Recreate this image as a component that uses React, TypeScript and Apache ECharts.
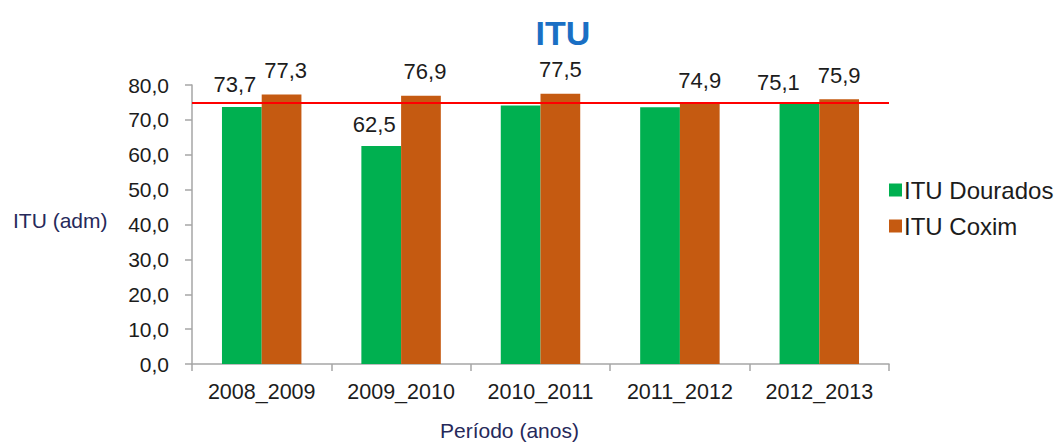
import React, { useEffect, useRef } from "react";
import * as echarts from "echarts";

const categories = ["2008_2009", "2009_2010", "2010_2011", "2011_2012", "2012_2013"];
const dourados = [73.7, 62.5, 74.1, 73.6, 75.1];
const coxim = [77.3, 76.9, 77.5, 74.9, 75.9];
const threshold = 75;
const yTicks = { min: 0, max: 80, interval: 10 };
const hiddenDouradosLabels = [2, 3];

const FONT = "'Liberation Sans', Arial, sans-serif";
const TEXT = "#1c1c1c";
const fmt = (v: number) => v.toFixed(1).replace(".", ",");

export default function App() {
  const ref = useRef<HTMLDivElement>(null);
  useEffect(() => {
    if (!ref.current) return;
    const chart = echarts.init(ref.current, null, { renderer: "svg" });
    const douradosOffsets: number[][] = [[-7, -6], [-7, -6], [0, -6], [0, -6], [-21, -4]];
    const coximOffsets: number[][] = [[4, -8], [4, -8], [0, -8], [0, -6], [0, -8]];
    chart.setOption({
      animation: false,
      backgroundColor: "#ffffff",
      title: {
        text: "ITU",
        left: 558,
        top: 11,
        textAlign: "center",
        textStyle: { color: "#1a6fc4", fontSize: 34, fontWeight: "bold", fontFamily: FONT },
      },
      legend: {
        orient: "vertical",
        left: 884,
        top: 173,
        itemWidth: 13,
        itemHeight: 13,
        itemGap: 12,
        icon: "rect",
        textStyle: { fontSize: 24, color: TEXT, fontFamily: FONT, padding: [0, 0, 0, -3] },
        data: ["ITU Dourados", "ITU Coxim"],
      },
      grid: { left: 192, right: 171, top: 85, bottom: 80, containLabel: false },
      xAxis: {
        type: "category",
        data: categories,
        axisLine: { lineStyle: { color: "#a6a6a6", width: 1.5 } },
        axisTick: { show: true, length: 7, lineStyle: { color: "#a6a6a6", width: 1.5 } },
        axisLabel: {
          color: TEXT,
          fontSize: 21.5,
          fontFamily: FONT,
          margin: 17,
          interval: 0,
          hideOverlap: false,
        },
      },
      yAxis: {
        type: "value",
        min: yTicks.min,
        max: yTicks.max,
        interval: yTicks.interval,
        splitLine: { show: false },
        axisLine: { show: true, lineStyle: { color: "#a6a6a6", width: 1.5 } },
        axisTick: { show: true, length: 7, lineStyle: { color: "#a6a6a6", width: 1.5 } },
        axisLabel: { color: TEXT, fontSize: 21, fontFamily: FONT, margin: 23, formatter: (v: number) => fmt(v) },
      },
      graphic: [
        {
          type: "text",
          left: 13,
          top: 210,
          style: { text: "ITU (adm)", fontSize: 21, fill: "#26295a", fontFamily: FONT },
        },
        {
          type: "text",
          left: 440,
          top: 420,
          style: { text: "Período (anos)", fontSize: 21, fill: "#26295a", fontFamily: FONT },
        },
      ],
      series: [
        {
          name: "ITU Dourados",
          type: "bar",
          barGap: "0%",
          barCategoryGap: "43%",
          itemStyle: { color: "#00b050" },
          data: dourados.map((v, i) => ({
            value: v,
            label: {
              show: !hiddenDouradosLabels.includes(i),
              position: "top",
              offset: douradosOffsets[i],
              formatter: () => fmt(v),
              fontSize: 22,
              color: TEXT,
              fontFamily: FONT,
            },
          })),
          markLine: {
            silent: true,
            symbol: "none",
            label: { show: false },
            lineStyle: { color: "#ff0000", width: 2, type: "solid" },
            data: [{ yAxis: threshold }],
          },
        },
        {
          name: "ITU Coxim",
          type: "bar",
          itemStyle: { color: "#c55a11" },
          data: coxim.map((v, i) => ({
            value: v,
            label: {
              show: true,
              position: "top",
              offset: coximOffsets[i],
              formatter: () => fmt(v),
              fontSize: 22,
              color: TEXT,
              fontFamily: FONT,
            },
          })),
        },
      ],
    });
    return () => chart.dispose();
  }, []);
  return (
    <div
      ref={ref}
      style={{ position: "absolute", left: 0, top: 0, width: 1060, height: 444, background: "#fff" }}
    />
  );
}
